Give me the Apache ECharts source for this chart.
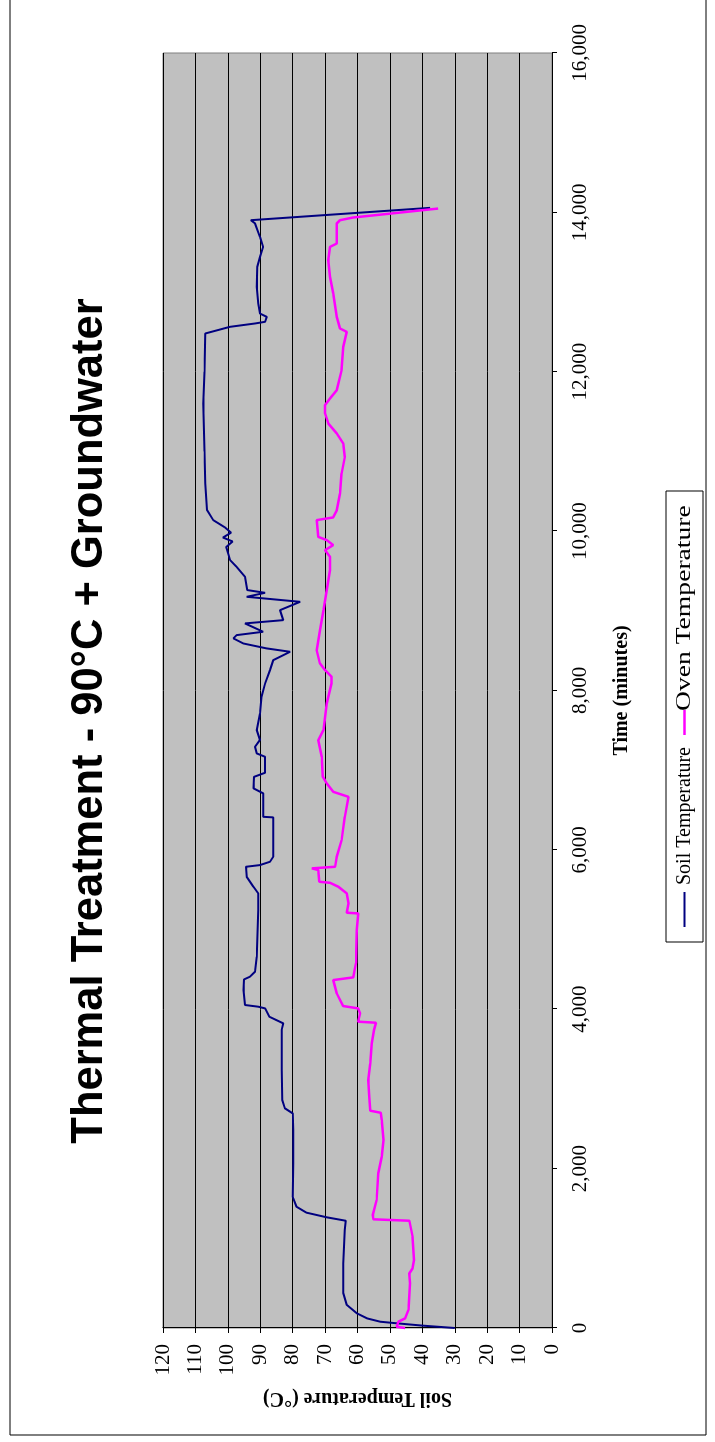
<!DOCTYPE html>
<html>
<head>
<meta charset="utf-8">
<script src="https://cdn.jsdelivr.net/npm/echarts@6/dist/echarts.min.js"></script>
<style>
  html, body { margin: 0; padding: 0; background: #fff; overflow: hidden; }
  /* chart is drawn landscape, then turned a quarter left onto the portrait page */
  #chart {
    position: absolute;
    left: 0;
    top: 0;
    width: 1442px;
    height: 715px;
    transform-origin: 0 0;
    transform: translate(0, 1442px) rotate(-90deg);
  }
</style>
</head>
<body>
<div id="chart"></div>
<script>
// Soil temperature (time in minutes, °C)
const soilTime = [0, 30, 59, 79, 120, 184, 289, 439, 811, 1230, 1346, 1389, 1447, 1522, 1648, 2066, 2484, 2694, 2757, 2861,
  3237, 3739, 3823, 3906, 4011, 4032, 4053, 4241, 4375, 4408, 4471, 4659, 5245, 5454, 5537, 5663, 5788, 5809, 5851, 5914,
  6408, 6415, 6709, 6772, 6917, 6968, 7168, 7211, 7294, 7378, 7503, 7712, 7921, 8089, 8256, 8381, 8486, 8528, 8590, 8654,
  8695, 8737, 8842, 8883, 9009, 9113, 9176, 9226, 9260, 9427, 9553, 9636, 9800, 9870, 9920, 9980, 10050, 10138, 10263, 10600,
  11000, 11600, 12000, 12480, 12564, 12606, 12627, 12689, 12731, 12857, 13065, 13316, 13442, 13567, 13693, 13861, 13902, 14057];
const soilTemp = [30.0, 40.0, 47.9, 53.0, 57.0, 60.2, 63.3, 64.4, 64.4, 63.9, 63.6, 69.5, 75.7, 78.8, 80.0, 79.8, 79.8, 80.0, 82.4, 83.2,
  83.4, 83.4, 82.9, 87.2, 88.5, 90.6, 94.7, 95.2, 95.0, 93.2, 91.6, 91.1, 90.6, 90.6, 92.1, 94.2, 94.4, 90.1, 87.0, 86.0,
  86.0, 89.1, 89.1, 92.1, 91.9, 88.5, 88.5, 91.1, 91.6, 90.1, 91.1, 90.1, 89.6, 88.5, 87.0, 86.0, 80.8, 88.0, 95.2, 98.3,
  97.3, 89.1, 94.7, 82.9, 83.9, 77.7, 94.2, 88.5, 94.0, 94.7, 97.3, 99.3, 100.5, 98.5, 101.5, 99.0, 101.0, 104.5, 106.4, 107.0,
  107.2, 107.6, 107.2, 107.0, 99.3, 91.6, 88.5, 88.0, 90.1, 90.6, 91.1, 90.9, 90.1, 89.1, 90.1, 91.6, 92.9, 37.6];

// Oven temperature
const ovenTime = [0, 15, 79, 121, 226, 561, 686, 749, 853, 1146, 1346, 1364, 1418, 1606, 1941, 2150, 2359, 2610, 2701, 2727,
  2902, 3112, 3321, 3572, 3739, 3831, 3844, 3948, 4011, 4040, 4199, 4366, 4400, 4576, 4994, 5203, 5211, 5329, 5454, 5537,
  5587, 5600, 5747, 5768, 5788, 5914, 6123, 6415, 6666, 6688, 6729, 6834, 6917, 7168, 7378, 7503, 7838, 8089, 8172, 8256,
  8340, 8507, 8758, 9009, 9260, 9511, 9678, 9762, 9824, 9887, 9928, 10138, 10172, 10263, 10473, 10724, 10933, 11100, 11226, 11351,
  11476, 11581, 11665, 11769, 12020, 12313, 12501, 12543, 12689, 12982, 13191, 13400, 13567, 13609, 13861, 13902, 13936, 14048];
const ovenTemp = [45.3, 47.9, 47.4, 45.3, 44.3, 43.8, 44.0, 43.0, 42.6, 43.0, 44.0, 55.1, 55.3, 54.1, 53.6, 52.5, 52.0, 52.5, 52.8, 56.1,
  56.4, 56.7, 56.1, 55.6, 54.9, 54.3, 59.8, 59.2, 59.8, 64.4, 66.4, 67.5, 61.3, 60.5, 60.2, 59.8, 63.3, 62.8, 63.3, 65.9,
  68.5, 71.8, 72.1, 74.1, 66.9, 66.4, 64.9, 63.9, 62.8, 62.3, 67.5, 69.5, 70.7, 71.0, 72.1, 70.5, 69.5, 68.0, 68.0, 70.0,
  71.6, 72.6, 71.6, 70.5, 69.5, 68.5, 68.5, 70.0, 67.5, 69.5, 72.1, 72.6, 67.5, 66.4, 65.4, 64.9, 63.9, 64.4, 66.4, 69.0,
  70.0, 70.0, 68.5, 66.4, 64.9, 64.4, 63.3, 65.4, 66.4, 67.5, 68.5, 69.0, 68.5, 66.4, 66.4, 65.4, 61.3, 35.1];

const serif = "'Liberation Serif', 'Times New Roman', serif";
const SOIL = '#000080';
const OVEN = '#ff00ff';

const chart = echarts.init(document.getElementById('chart'), null, { renderer: 'canvas' });

// legend box drawn by hand: the oven label in the original is noticeably wider than the soil one
const legendBox = {
  type: 'group',
  silent: true,
  children: [
    { type: 'rect', shape: { x: 500, y: 666, width: 451, height: 37 }, style: { fill: '#fff', stroke: '#000', lineWidth: 1 } },
    { type: 'line', shape: { x1: 515, y1: 684.5, x2: 550, y2: 684.5 }, style: { stroke: SOIL, lineWidth: 2 } },
    { type: 'text', x: 557, y: 685, style: { text: 'Soil Temperature', font: '20px ' + serif, fill: '#000', align: 'left', verticalAlign: 'middle' } },
    { type: 'line', shape: { x1: 707, y1: 684.5, x2: 732, y2: 684.5 }, style: { stroke: OVEN, lineWidth: 2.5 } },
    { type: 'text', x: 731, y: 685, scaleX: 1.38, style: { text: 'Oven Temperature', font: '20px ' + serif, fill: '#000', align: 'left', verticalAlign: 'middle' } }
  ]
};

chart.setOption({
  animation: false,
  backgroundColor: '#fff',
  title: {
    text: 'Thermal Treatment - 90°C + Groundwater',
    left: 'center',
    top: 63,
    textStyle: { fontFamily: "'Liberation Sans', Arial, sans-serif", fontWeight: 'bold', fontSize: 43.5, color: '#000' }
  },
  graphic: [
    {
      type: 'rect',
      shape: { x: 7, y: 10, width: 1440, height: 696 },
      style: { fill: 'none', stroke: '#000', lineWidth: 1 },
      silent: true
    },
    legendBox
  ],
  grid: {
    left: 114, right: 53, top: 163, bottom: 163,
    show: true,
    backgroundColor: '#c0c0c0',
    borderColor: '#808080',
    borderWidth: 1
  },
  xAxis: {
    type: 'value',
    min: 0, max: 16000, interval: 2000,
    name: 'Time (minutes)',
    nameLocation: 'middle',
    nameGap: 60,
    nameTextStyle: { fontFamily: serif, fontWeight: 'bold', fontSize: 20, color: '#000' },
    axisLine: { show: true, lineStyle: { color: '#000', width: 1 } },
    axisTick: { show: true, inside: false, length: 5, lineStyle: { color: '#000' } },
    axisLabel: {
      margin: 18,
      fontFamily: serif, fontSize: 21, color: '#000',
      formatter: (v) => v.toLocaleString('en-US')
    },
    splitLine: { show: false }
  },
  yAxis: {
    type: 'value',
    min: 0, max: 120, interval: 10,
    name: 'Soil Temperature (°C)',
    nameLocation: 'middle',
    nameGap: 60,
    nameTextStyle: { fontFamily: serif, fontWeight: 'bold', fontSize: 20, color: '#000' },
    axisLine: { show: true, lineStyle: { color: '#000', width: 1 } },
    axisTick: { show: true, inside: false, length: 5, lineStyle: { color: '#000' } },
    axisLabel: { margin: 16, fontFamily: serif, fontSize: 21, color: '#000' },
    splitLine: { show: true, lineStyle: { color: '#000', width: 1 } }
  },
  series: [
    {
      name: 'Soil Temperature',
      type: 'line',
      showSymbol: false,
      symbol: 'none',
      color: SOIL,
      lineStyle: { color: SOIL, width: 2 },
      data: soilTime.map((t, i) => [t, soilTemp[i]])
    },
    {
      name: 'Oven Temperature',
      type: 'line',
      showSymbol: false,
      symbol: 'none',
      color: OVEN,
      lineStyle: { color: OVEN, width: 2.5 },
      data: ovenTime.map((t, i) => [t, ovenTemp[i]])
    }
  ]
});
</script>
</body>
</html>
